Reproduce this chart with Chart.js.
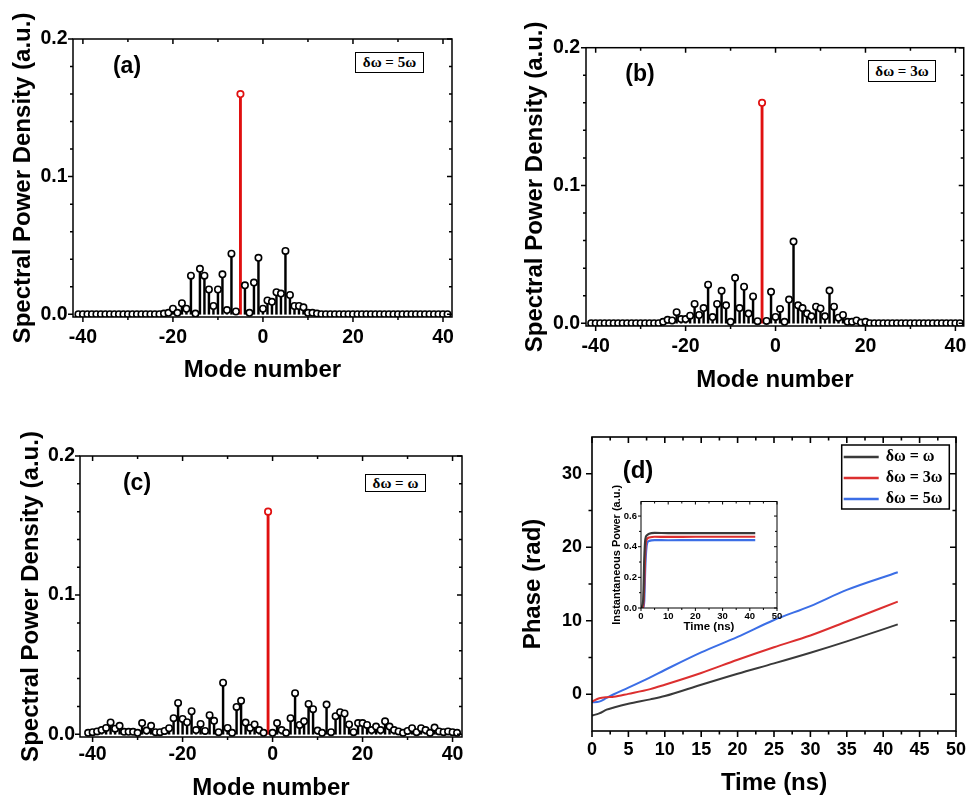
<!DOCTYPE html>
<html>
<head>
<meta charset="utf-8">
<script src="https://cdn.jsdelivr.net/npm/chart.js@4.4.1/dist/chart.umd.min.js"></script>
<style>
html, body { margin: 0; padding: 0; background: #fff; }
body { position: relative; width: 967px; height: 797px; overflow: hidden; }
canvas { position: absolute; }
.tag { position: absolute; transform: translate(-50%, -50%); font: bold 23px "Liberation Sans", Arial, sans-serif; color: #000; white-space: nowrap; }
.note { position: absolute; box-sizing: border-box; border: 1.5px solid #000; background: #fff;
  font: bold 15px "Liberation Serif", "Times New Roman", serif; color: #000;
  display: flex; align-items: center; justify-content: center; white-space: nowrap; }
</style>
</head>
<body>
<canvas id="chartA"></canvas>
<canvas id="chartB"></canvas>
<canvas id="chartC"></canvas>
<canvas id="chartD"></canvas>
<canvas id="chartInset"></canvas>

<div class="tag" style="left:127px;top:65px">(a)</div>
<div class="tag" style="left:640px;top:73px">(b)</div>
<div class="tag" style="left:137px;top:482px">(c)</div>
<div class="tag" style="left:638px;top:470px;font-size:24px">(d)</div>
<div class="note" id="noteA" style="left:355px;top:52px;width:69px;height:21px"></div>
<div class="note" id="noteB" style="left:868px;top:60px;width:68px;height:22px"></div>
<div class="note" id="noteC" style="left:365px;top:474px;width:61px;height:18px"></div>

<script>
// detuning labels (legend + note boxes)
var seriesNames = ['δω = ω', 'δω = 3ω', 'δω = 5ω'];

// mode numbers -41..41 (categories)
var modes = [];
for (var m = -41; m <= 41; m++) modes.push(m);

// spectral power density, modes -41..41
var spdA = [0,0,0,0,0,0,0,0,0,0,0,0,0,0,0,0,0,0,0,
  0.0005,0.001,0.004,0.001,0.008,0.004,0.028,0.0005,0.033,0.028,0.018,0.006,0.018,0.029,0.003,0.044,0.002,
  0.160,0.021,0.001,0.023,0.041,0.004,0.010,0.009,0.016,0.015,0.046,0.014,0.006,0.006,0.005,0.001,0.001,0.0005,
  0,0,0,0,0,0,0,0,0,0,0,0,0,0,0,0,0,0,0,0,0,0,0,0,0,0,0,0,0];
var spdB = [0,0,0,0,0,0,0,0,0,0,0,0,0,0,0,0,
  0.001,0.0025,0.002,0.008,0.003,0.003,0.0055,0.014,0.006,0.011,0.028,0.0045,0.014,0.0235,0.013,0.001,0.033,
  0.011,0.0265,0.007,0.0195,0.0015,0.160,0.0017,0.0228,0.0046,0.0104,0.001,0.0172,0.0593,0.013,0.011,0.007,
  0.005,0.012,0.0107,0.005,0.0237,0.012,0.004,0.006,0.001,0.001,0.002,0.0005,0.001,
  0,0,0,0,0,0,0,0,0,0,0,0,0,0,0,0,0,0,0,0,0];
var spdC = [0.001,0.0015,0.002,0.003,0.0045,0.0085,0.004,0.006,0.0017,0.0017,0.0017,0.001,0.008,0.0026,0.006,
  0.0015,0.0015,0.0024,0.0043,0.0115,0.0225,0.011,0.0086,0.0165,0.003,0.0074,0.0024,0.0137,0.0096,0.0015,
  0.037,0.0045,0.001,0.0196,0.024,0.0084,0.0045,0.007,0.003,0.001,0.160,0.001,0.008,0.003,0.001,0.0115,
  0.0295,0.0067,0.0093,0.0218,0.018,0.0026,0.001,0.0213,0.0015,0.013,0.0158,0.0149,0.007,0.0015,0.008,
  0.008,0.0067,0.003,0.0055,0.003,0.0093,0.0055,0.003,0.002,0.001,0.0024,0.0043,0.0015,0.0043,0.003,
  0.001,0.0048,0.002,0.0015,0.002,0.0015,0.001];
var carrierA = -5, carrierB = -3, carrierC = -1;

// phase evolution (panel d)
var timeNs = [0, 1, 2, 3, 5, 8, 10, 15, 20, 25, 30, 35, 42];
var phaseW  = [-2.9, -2.6, -2.1, -1.8, -1.3, -0.7, -0.25, 1.3, 2.8, 4.2, 5.65, 7.2, 9.5];
var phase3W = [-1.0, -0.55, -0.4, -0.35, 0.05, 0.7, 1.3, 2.9, 4.7, 6.4, 8.0, 9.9, 12.6];
var phase5W = [-1.1, -1.0, -0.5, 0.0, 0.9, 2.3, 3.3, 5.7, 7.8, 10.1, 12.0, 14.2, 16.6];

// instantaneous power (inset)
var insetNs = [0, 0.8, 1.2, 1.6, 2.2, 3, 5, 10, 20, 30, 42];
var powerW  = [0, 0.05, 0.32, 0.45, 0.475, 0.485, 0.49, 0.489, 0.489, 0.489, 0.489];
var power3W = [0, 0.01, 0.15, 0.38, 0.45, 0.46, 0.465, 0.464, 0.465, 0.465, 0.465];
var power5W = [0, 0, 0.05, 0.28, 0.42, 0.438, 0.443, 0.442, 0.443, 0.443, 0.443];

// ticks
var modeTicks = [-40, -20, 0, 20, 40];
var modeMinor = [-30, -10, 10, 30];
var spdTicks = [0, 0.1, 0.2];
var spdMinor = [0.02, 0.04, 0.06, 0.08, 0.12, 0.14, 0.16, 0.18];
var timeTicks = [0, 5, 10, 15, 20, 25, 30, 35, 40, 45, 50];
var timeMinor = [2.5, 7.5, 12.5, 17.5, 22.5, 27.5, 32.5, 37.5, 42.5, 47.5];
var phaseTicks = [0, 10, 20, 30];
var phaseMinor = [5, 15, 25];
var insetTimeTicks = [0, 10, 20, 30, 40, 50];
var insetTimeMinor = [5, 15, 25, 35, 45];
var powerTicks = [0, 0.2, 0.4, 0.6];
var powerMinor = [0.1, 0.3, 0.5];

var RED = '#e01010';
var lineColors = ['#3a3a3a', '#dc2f2f', '#3b6ee6'];
var SANS = '"Liberation Sans", Arial, sans-serif';
var NOGRID = { display: false, drawTicks: false };

Chart.defaults.color = '#000';
Chart.defaults.font.family = SANS;

// closed box with inward ticks on top/right, outward on bottom/left
var frame = {
  id: 'frame',
  afterDraw: function (chart, args, o) {
    if (!o.xMajor) return;
    var ctx = chart.ctx, a = chart.chartArea, x = chart.scales.x, y = chart.scales.y;
    ctx.save();
    ctx.strokeStyle = '#000';
    ctx.lineWidth = o.width;
    ctx.beginPath();
    function xt(vals, len) {
      vals.forEach(function (v) {
        var p = x.getPixelForValue(v);
        ctx.moveTo(p, a.bottom); ctx.lineTo(p, a.bottom + len);
        ctx.moveTo(p, a.top); ctx.lineTo(p, a.top + len);
      });
    }
    function yt(vals, len) {
      vals.forEach(function (v) {
        var p = y.getPixelForValue(v);
        ctx.moveTo(a.left - len, p); ctx.lineTo(a.left, p);
        ctx.moveTo(a.right - len, p); ctx.lineTo(a.right, p);
      });
    }
    xt(o.xMajor, o.len); xt(o.xMinor, o.minor);
    yt(o.yMajor, o.len); yt(o.yMinor, o.minor);
    ctx.stroke();
    ctx.strokeRect(a.left, a.top, a.right - a.left, a.bottom - a.top);
    ctx.restore();
  }
};
Chart.register(frame);

var boxLegend = {
  id: 'boxLegend',
  afterDraw: function (chart, args, o) {
    var ctx = chart.ctx, a = chart.chartArea;
    var l = a.right - o.right - o.w, t = a.top + o.top;
    ctx.save();
    ctx.fillStyle = '#fff';
    ctx.fillRect(l, t, o.w, o.h);
    ctx.strokeStyle = '#000';
    ctx.lineWidth = 1.5;
    ctx.strokeRect(l, t, o.w, o.h);
    ctx.font = o.font;
    ctx.textBaseline = 'middle';
    ctx.textAlign = 'left';
    chart.data.datasets.forEach(function (ds, i) {
      var yy = t + o.first + i * o.row;
      ctx.strokeStyle = ds.borderColor;
      ctx.lineWidth = 2.5;
      ctx.beginPath(); ctx.moveTo(l + 2, yy); ctx.lineTo(l + 37, yy); ctx.stroke();
      ctx.fillStyle = '#000';
      ctx.fillText(ds.label, l + 44, yy);
    });
    ctx.restore();
  }
};

function place(id, box) {
  var c = document.getElementById(id);
  c.width = box.w; c.height = box.h;
  c.style.left = box.x + 'px'; c.style.top = box.y + 'px';
  return c;
}

function pads(box, plot) {
  return { left: 0, top: plot.t - box.y, right: box.x + box.w - plot.r, bottom: 0 };
}

function stemChart(id, box, plot, xr, values, carrier, g) {
  var pts = modes.map(function (m, i) { return { x: m, y: values[i] }; });
  var side = pts.filter(function (p) { return p.x !== carrier; });
  var main = pts.filter(function (p) { return p.x === carrier; });
  var tickFont = { size: 19.5, weight: 'bold', family: SANS };
  var titleFont = { size: 24, weight: 'bold', family: SANS };
  return new Chart(place(id, box), {
    type: 'scatter',
    data: {
      datasets: [
        { type: 'scatter', data: main, pointRadius: 3.2, pointBorderWidth: 1.7,
          pointBackgroundColor: '#fff', pointBorderColor: RED, order: 0 },
        { type: 'scatter', data: side, pointRadius: 3.2, pointBorderWidth: 1.6,
          pointBackgroundColor: '#fff', pointBorderColor: '#000', order: 1 },
        { type: 'bar', data: side, backgroundColor: '#000', barThickness: 1.8, grouped: false, order: 2 },
        { type: 'bar', data: main, backgroundColor: RED, barThickness: 2.2, grouped: false, order: 2 }
      ]
    },
    options: {
      responsive: false,
      animation: false,
      layout: { padding: pads(box, plot) },
      plugins: {
        legend: { display: false },
        tooltip: { enabled: false },
        frame: { xMajor: modeTicks, xMinor: modeMinor, yMajor: spdTicks, yMinor: spdMinor,
                 len: 5, minor: 3, width: 1.5 }
      },
      scales: {
        x: {
          type: 'linear', min: xr[0], max: xr[1], offset: false,
          grid: NOGRID, border: { display: false },
          afterBuildTicks: function (s) { s.ticks = modeTicks.map(function (v) { return { value: v }; }); },
          ticks: { font: tickFont, padding: g.xPad, color: '#000', callback: function (v) { return String(v); } },
          title: { display: true, text: 'Mode number', font: titleFont, padding: { top: 0, bottom: g.xTitle } },
          afterFit: function (s) { s.height = box.y + box.h - plot.b; }
        },
        y: {
          type: 'linear', min: -0.002, max: 0.2,
          grid: NOGRID, border: { display: false },
          afterBuildTicks: function (s) { s.ticks = spdTicks.map(function (v) { return { value: v }; }); },
          ticks: { font: tickFont, padding: g.yPad, color: '#000', callback: function (v) { return v.toFixed(1); } },
          title: { display: true, text: 'Spectral Power Density (a.u.)', font: titleFont, padding: { top: g.yTitle, bottom: 0 } },
          afterFit: function (s) { s.width = plot.l - box.x; }
        }
      }
    }
  });
}

function series(xs, ys) {
  return xs.map(function (t, i) { return { x: t, y: ys[i] }; });
}

document.getElementById('noteA').textContent = seriesNames[2];
document.getElementById('noteB').textContent = seriesNames[1];
document.getElementById('noteC').textContent = seriesNames[0];

stemChart('chartA', { x: 0, y: 0, w: 480, h: 400 }, { l: 73, t: 39, r: 452, b: 317 },
  [-42.2, 42], spdA, carrierA, { xPad: 9, yPad: 5.5, xTitle: 15.5, yTitle: 8.5 });
stemChart('chartB', { x: 480, y: 0, w: 495, h: 400 }, { l: 586, t: 47.7, r: 964, b: 326 },
  [-42.15, 41.85], spdB, carrierB, { xPad: 8.5, yPad: 6, xTitle: 5.5, yTitle: 40.5 });
stemChart('chartC', { x: 0, y: 400, w: 480, h: 410 }, { l: 80, t: 456, r: 462, b: 737 },
  [-42.8, 42.1], spdC, carrierC, { xPad: 5.5, yPad: 5, xTitle: 7.5, yTitle: 17.3 });

// panel (d)
var boxD = { x: 480, y: 400, w: 495, h: 410 }, plotD = { l: 592, t: 437, r: 956, b: 731 };
var phaseData = [phaseW, phase3W, phase5W];
new Chart(place('chartD', boxD), {
  type: 'line',
  data: {
    datasets: phaseData.map(function (ys, i) {
      return { label: seriesNames[i], data: series(timeNs, ys), borderColor: lineColors[i],
               borderWidth: 2, pointRadius: 0, fill: false, cubicInterpolationMode: 'monotone' };
    })
  },
  options: {
    responsive: false,
    animation: false,
    layout: { padding: pads(boxD, plotD) },
    plugins: {
      legend: { display: false },
      tooltip: { enabled: false },
      frame: { xMajor: timeTicks, xMinor: timeMinor, yMajor: phaseTicks, yMinor: phaseMinor,
               len: 6, minor: 3.5, width: 1.6 },
      boxLegend: { right: 6.7, top: 8, w: 107.6, h: 64, first: 12, row: 21,
                   font: 'bold 16px "Liberation Serif", "Times New Roman", serif' }
    },
    scales: {
      x: {
        type: 'linear', min: 0, max: 50,
        grid: NOGRID, border: { display: false },
        afterBuildTicks: function (s) { s.ticks = timeTicks.map(function (v) { return { value: v }; }); },
        ticks: { font: { size: 18, weight: 'bold' }, padding: 8, color: '#000' },
        title: { display: true, text: 'Time (ns)', font: { size: 24, weight: 'bold' }, padding: { top: 0, bottom: 12.6 } },
        afterFit: function (s) { s.height = boxD.y + boxD.h - plotD.b; }
      },
      y: {
        type: 'linear', min: -5, max: 35,
        grid: NOGRID, border: { display: false },
        afterBuildTicks: function (s) { s.ticks = phaseTicks.map(function (v) { return { value: v }; }); },
        ticks: { font: { size: 18, weight: 'bold' }, padding: 10, color: '#000' },
        title: { display: true, text: 'Phase (rad)', font: { size: 24, weight: 'bold' }, padding: { top: 38.6, bottom: 0 } },
        afterFit: function (s) { s.width = plotD.l - boxD.x; }
      }
    }
  },
  plugins: [boxLegend]
});

// inset
var boxI = { x: 600, y: 480, w: 200, h: 170 }, plotI = { l: 641, t: 501.5, r: 777, b: 608 };
var powerData = [powerW, power3W, power5W];
new Chart(place('chartInset', boxI), {
  type: 'line',
  data: {
    datasets: powerData.map(function (ys, i) {
      return { label: seriesNames[i], data: series(insetNs, ys), borderColor: lineColors[i],
               borderWidth: 2.2, pointRadius: 0, fill: false, cubicInterpolationMode: 'monotone' };
    })
  },
  options: {
    responsive: false,
    animation: false,
    layout: { padding: pads(boxI, plotI) },
    plugins: {
      legend: { display: false },
      tooltip: { enabled: false },
      frame: { xMajor: insetTimeTicks, xMinor: insetTimeMinor, yMajor: powerTicks, yMinor: powerMinor,
               len: 3, minor: 2, width: 1 }
    },
    scales: {
      x: {
        type: 'linear', min: 0, max: 50,
        grid: NOGRID, border: { display: false },
        afterBuildTicks: function (s) { s.ticks = insetTimeTicks.map(function (v) { return { value: v }; }); },
        ticks: { font: { size: 9.5, weight: 'bold' }, padding: 3, color: '#000' },
        title: { display: true, text: 'Time (ns)', font: { size: 11.5, weight: 'bold' }, padding: { top: 0, bottom: 16.4 } },
        afterFit: function (s) { s.height = boxI.y + boxI.h - plotI.b; }
      },
      y: {
        type: 'linear', min: 0, max: 0.695,
        grid: NOGRID, border: { display: false },
        afterBuildTicks: function (s) { s.ticks = powerTicks.map(function (v) { return { value: v }; }); },
        ticks: { font: { size: 9.5, weight: 'bold' }, padding: 4, color: '#000',
                 callback: function (v) { return v.toFixed(1); } },
        title: { display: true, text: 'Instantaneous Power (a.u.)', font: { size: 11, weight: 'bold' }, padding: { top: 10, bottom: 0 } },
        afterFit: function (s) { s.width = plotI.l - boxI.x; }
      }
    }
  }
});
</script>
</body>
</html>
